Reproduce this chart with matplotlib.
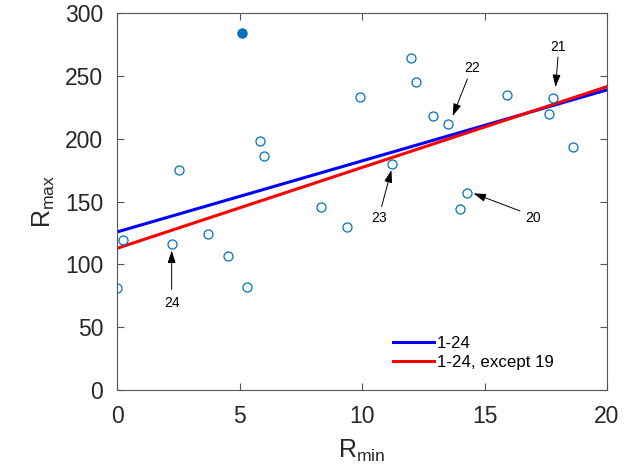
import numpy as np
import matplotlib.pyplot as plt

plt.rcParams['font.family'] = ['Liberation Sans', 'DejaVu Sans']
plt.rcParams['mathtext.fontset'] = 'custom'
plt.rcParams['mathtext.rm'] = 'Liberation Sans'

# data
r_min = [0.01, 0.23, 2.23, 3.71, 4.52, 5.32, 8.31, 9.40, 2.52, 5.82, 6.01, 9.92,
         12.0, 12.22, 12.91, 13.51, 15.91, 17.81, 17.62, 18.60, 11.21, 14.30, 14.0]
r_max = [81, 119, 116, 124, 107, 82, 146, 130, 175, 198, 186, 233,
         264, 245, 218, 212, 235, 232, 220, 193, 180, 156.5, 144]
# case 19 (filled)
r_min_19 = 5.10
r_max_19 = 284

# labelled cases: text position, arrow tip, arrow tail (data coords)
labels = ['20', '21', '22', '23', '24']
label_xy = [(17.0, 137), (18.0, 273), (14.5, 256), (10.7, 137), (2.23, 69)]
tip_xy = [(14.55, 156.5), (17.9, 241), (13.7, 218), (11.2, 175), (2.23, 111)]
tail_xy = [(16.45, 142.5), (18.0, 265), (14.3, 247.5), (10.8, 146), (2.23, 80)]

x_all = np.array(r_min + [r_min_19])
y_all = np.array(r_max + [r_max_19])
fit_all = np.polyfit(x_all, y_all, 1)
fit_ex = np.polyfit(np.array(r_min), np.array(r_max), 1)

fig = plt.figure(figsize=(6.35, 4.75), dpi=100)
ax = fig.add_axes([0.1843, 0.1789, 0.7716, 0.7937])

xx = np.array([0, 20])
ax.plot(xx, np.polyval(fit_all, xx), color='#0000FF', lw=2.2, label='1-24', zorder=2)
ax.plot(xx, np.polyval(fit_ex, xx), color='#FF0000', lw=2.2, label='1-24, except 19', zorder=2)

ax.plot(r_min, r_max, 'o', mfc='none', mec='#0072BD', ms=6.5, mew=0.9, zorder=3)
ax.plot([r_min_19], [r_max_19], 'o', mfc='#0072BD', mec='#0072BD', ms=6.5, zorder=3)

for lab, txy, tip, tail in zip(labels, label_xy, tip_xy, tail_xy):
    ax.text(txy[0], txy[1], lab, fontsize=10, ha='center', va='center', color='k')
    ax.annotate('', xy=tip, xytext=tail,
                arrowprops=dict(arrowstyle='-|>,head_length=0.75,head_width=0.24',
                                color='k', lw=0.7, shrinkA=0, shrinkB=0))

ax.set_xlim(0, 20)
ax.set_ylim(0, 300)
ax.set_xticks([0, 5, 10, 15, 20])
ax.set_yticks([0, 50, 100, 150, 200, 250, 300])
ax.tick_params(direction='in', length=5, width=0.8, top=True, right=True,
               labelsize=16.5, colors='#555555', labelcolor='#262626')
ax.tick_params(axis='x', pad=11)
ax.tick_params(axis='y', pad=10)
for s in ax.spines.values():
    s.set_color('#555555')
    s.set_linewidth(0.8)

ax.set_xlabel(r'$\mathregular{R_{min}}$', fontsize=18, color='#262626', labelpad=7)
ax.set_ylabel(r'$\mathregular{R_{max}}$', fontsize=18, color='#262626', labelpad=6)

ax.legend(loc='lower left', frameon=False, fontsize=12.2, handlelength=2.4,
          handletextpad=0.2, labelspacing=0.25, borderpad=0.4,
          bbox_to_anchor=(0.532, 0.012))

fig.savefig('out.png', dpi=100)
